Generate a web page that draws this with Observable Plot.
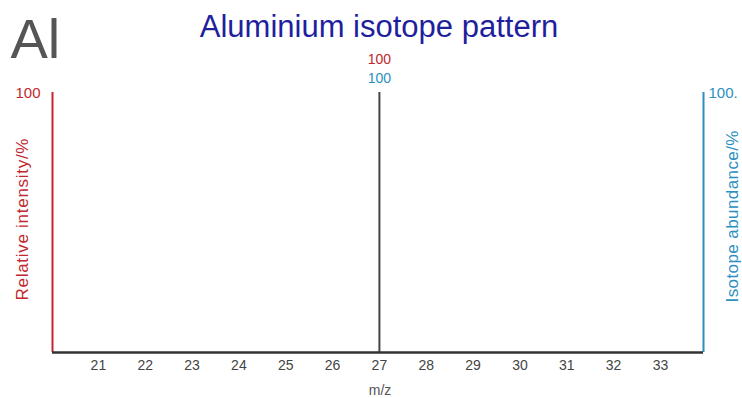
<!DOCTYPE html>
<html>
<head>
<meta charset="utf-8">
<script src="https://cdn.jsdelivr.net/npm/d3@7"></script>
<script src="https://cdn.jsdelivr.net/npm/@observablehq/plot@0.6"></script>
<style>
  html, body { margin: 0; padding: 0; background: #fff; }
  svg { display: block; }
</style>
</head>
<body>
<div id="chart"></div>
<script>
const element = "Al";
const title = "Aluminium isotope pattern";
const mz = [27];
const intensity = [100];
const abundance = [100];
const xTicks = [21, 22, 23, 24, 25, 26, 27, 28, 29, 30, 31, 32, 33];
const xDomain = [20.02, 33.92];
const leftTopLabel = "100";
const rightTopLabel = "100.";
const leftLabel = "Relative intensity/%";
const rightLabel = "Isotope abundance/%";
const xLabel = "m/z";

const RED = "#c1272d";
const BLUE = "#2b8fc0";
const peaks = mz.map((m, i) => ({mz: m, intensity: intensity[i], abundance: abundance[i]}));
const font = "'Liberation Sans', Arial, Helvetica, sans-serif";

const chart = Plot.plot({
  width: 742,
  height: 398,
  marginLeft: 52,
  marginRight: 39,
  marginTop: 92,
  marginBottom: 46,
  style: {fontFamily: font, background: "#fff"},
  x: {domain: xDomain, ticks: xTicks, tickSize: 0, tickPadding: 8, label: null},
  y: {domain: [0, 100], axis: null},
  marks: [
    Plot.axisX({ticks: xTicks, tickSize: 0, tickPadding: 8, fontSize: 14, fill: "#444", label: null}),
    Plot.ruleX([xDomain[0]], {y1: 0, y2: 100, stroke: RED, strokeWidth: 2}),
    Plot.ruleX([xDomain[1]], {y1: 0, y2: 100, stroke: BLUE, strokeWidth: 2}),
    Plot.ruleX(peaks, {x: "mz", y1: 0, y2: "intensity", stroke: "#444", strokeWidth: 2}),
    Plot.ruleY([0], {stroke: "#333", strokeWidth: 2.5}),
    Plot.text(peaks, {x: "mz", y: "intensity", text: d => String(d.intensity), dy: -33, fill: RED, fontSize: 14}),
    Plot.text(peaks, {x: "mz", y: "abundance", text: d => String(d.abundance), dy: -14, fill: BLUE, fontSize: 14}),
    Plot.text([leftTopLabel], {x: xDomain[0], y: 100, text: d => d, textAnchor: "end", dx: -12, dy: 1, fill: RED, fontSize: 15}),
    Plot.text([rightTopLabel], {x: xDomain[1], y: 100, text: d => d, textAnchor: "start", dx: 5, dy: 1, fill: BLUE, fontSize: 15}),
    Plot.text([leftLabel], {frameAnchor: "left", textAnchor: "middle", lineAnchor: "middle", text: d => d, rotate: -90, dx: -30, dy: -3, fill: RED, fontSize: 17}),
    Plot.text([rightLabel], {frameAnchor: "right", textAnchor: "middle", lineAnchor: "middle", text: d => d, rotate: -90, dx: 29, dy: -6, fill: BLUE, fontSize: 17}),
    Plot.text([xLabel], {frameAnchor: "bottom", lineAnchor: "middle", text: d => d, dy: 38, dx: 2, fill: "#555", fontSize: 14}),
    Plot.text([title], {frameAnchor: "top", lineAnchor: "middle", text: d => d, dy: -65, dx: 1, fill: "#1f1f9e", fontSize: 31}),
    Plot.text([element], {frameAnchor: "top-left", lineAnchor: "middle", textAnchor: "start", dx: -42, dy: -52, fill: "#555", fontSize: 56, text: d => d})
  ]
});
document.getElementById("chart").appendChild(chart);
// stretch the rotated axis titles to the lengths seen in the reference
const stretch = {[leftLabel]: 162, [rightLabel]: 172};
d3.select(chart).selectAll("text").each(function() {
  const t = this.textContent;
  if (stretch[t]) d3.select(this).attr("textLength", stretch[t]).attr("lengthAdjust", "spacing");
});
</script>
</body>
</html>
